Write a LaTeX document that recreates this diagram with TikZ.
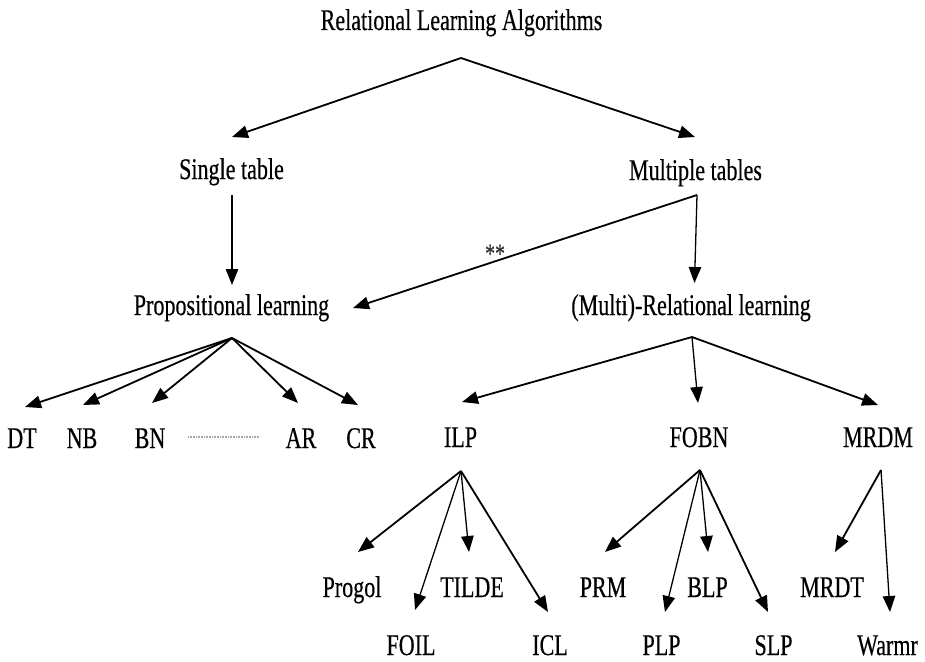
\documentclass[tikz,border=0pt]{standalone}
\usepackage{fontspec}
\setmainfont{Liberation Serif}[FakeStretch=0.735,FakeBold=0.4]
\usetikzlibrary{arrows.meta}

\begin{document}
\begin{tikzpicture}[x=1pt,y=-1pt,
  lbl/.style={anchor=base,inner sep=0pt,font=\fontsize{30}{36}\selectfont},
  arr/.style={line width=1.8pt,-{Triangle[length=16pt,width=12.5pt]}},
  arrthin/.style={line width=1.3pt,-{Triangle[length=16pt,width=12.5pt]}},
  dots/.style={gray!70,line width=1.6pt,dash pattern=on 0.8pt off 0.8pt}]
\useasboundingbox (0,0) rectangle (925,661);

% --- labels (placed by their baseline centre) ---
\node[lbl] (root)     at (461.5,30)  {Relational Learning Algorithms};
\node[lbl] (single)   at (231.5,179) {Single table};
\node[lbl] (multiple) at (695.5,180) {Multiple tables};
\node[lbl] (prop)     at (231.5,315) {Propositional learning};
\node[lbl] (mrel)     at (691,315)   {(Multi)-Relational learning};

\node[lbl] (dt) at (22,448)  {DT};
\node[lbl] (nb) at (82,448)  {NB};
\node[lbl] (bn) at (150,448) {BN};
\node[lbl] (ar) at (301,448) {AR};
\node[lbl] (cr) at (361,448) {CR};

\node[lbl] (ilp)  at (460.5,447) {ILP};
\node[lbl] (fobn) at (699,447)   {FOBN};
\node[lbl] (mrdm) at (878,447)   {MRDM};

\node[lbl] (progol) at (352,597)   {Progol};
\node[lbl] (tilde)  at (472,597)   {TILDE};
\node[lbl] (foil)   at (411,655)   {FOIL};
\node[lbl] (icl)    at (550,655)   {ICL};
\node[lbl] (prm)    at (603,597)   {PRM};
\node[lbl] (blp)    at (707.5,597) {BLP};
\node[lbl] (plp)    at (661.5,655) {PLP};
\node[lbl] (slp)    at (773.5,655) {SLP};
\node[lbl] (mrdt)   at (832,597)   {MRDT};
\node[lbl] (warmr)  at (887.5,655) {Warmr};

% --- branching points below each parent ---
\coordinate (rootout)     at ([shift={(-0.5,28)}]root.base);
\coordinate (singleout)   at ([shift={(0.5,16)}]single.base);
\coordinate (multipleout) at ([shift={(1.5,15)}]multiple.base);
\coordinate (propout)     at ([shift={(0.5,23)}]prop.base);
\coordinate (mrelout)     at ([shift={(1,22)}]mrel.base);
\coordinate (ilpout)      at ([shift={(0.5,24)}]ilp.base);
\coordinate (fobnout)     at ([shift={(1,23)}]fobn.base);
\coordinate (mrdmout)     at ([shift={(3,23)}]mrdm.base);

% --- connectors ---
\draw[arr] (rootout) -- ([shift={(0.5,-42)}]single.base);
\draw[arr] (rootout) -- ([shift={(-0.5,-43)}]multiple.base);

\draw[arrthin] (singleout) -- ([shift={(0.5,-30)}]prop.base);
\draw[arrthin] (multipleout) -- ([shift={(3.5,-32)}]mrel.base);
\draw[arr] (multipleout) -- node[pos=0.587,anchor=base,yshift=-1pt,inner sep=0pt,
  font=\fontsize{27}{27}\selectfont,text=black!80] (stars) {**}
  ([shift={(121.5,-7)}]prop.base);

\draw[arr] (propout) -- ([shift={(3,-41)}]dt.base);
\draw[arr] (propout) -- ([shift={(1,-43)}]nb.base);
\draw[arr] (propout) -- ([shift={(2,-45)}]bn.base);
\draw[arr] (propout) -- ([shift={(-3,-45)}]ar.base);
\draw[arr] (propout) -- ([shift={(-3,-43)}]cr.base);
\draw[dots] ([shift={(38,-11)}]bn.base) -- ([shift={(-41,-11)}]ar.base);

\draw[arr] (mrelout) -- ([shift={(1.5,-45)}]ilp.base);
\draw[arrthin] (mrelout) -- ([shift={(-1,-44)}]fobn.base);
\draw[arr] (mrelout) -- ([shift={(0,-42)}]mrdm.base);

\draw[arr] (ilpout) -- ([shift={(6,-45)}]progol.base);
\draw[arrthin] (ilpout) -- ([shift={(4,-45)}]foil.base);
\draw[arrthin] (ilpout) -- ([shift={(-3,-45)}]tilde.base);
\draw[arr] (ilpout) -- ([shift={(-2,-43)}]icl.base);

\draw[arr] (fobnout) -- ([shift={(2,-45)}]prm.base);
\draw[arrthin] (fobnout) -- ([shift={(3.5,-43)}]plp.base);
\draw[arrthin] (fobnout) -- ([shift={(0.5,-45)}]blp.base);
\draw[arr] (fobnout) -- ([shift={(-5.5,-43)}]slp.base);

\draw[arr] (mrdmout) -- ([shift={(3,-45)}]mrdt.base);
\draw[arrthin] (mrdmout) -- ([shift={(2.5,-43)}]warmr.base);
\end{tikzpicture}
\end{document}
